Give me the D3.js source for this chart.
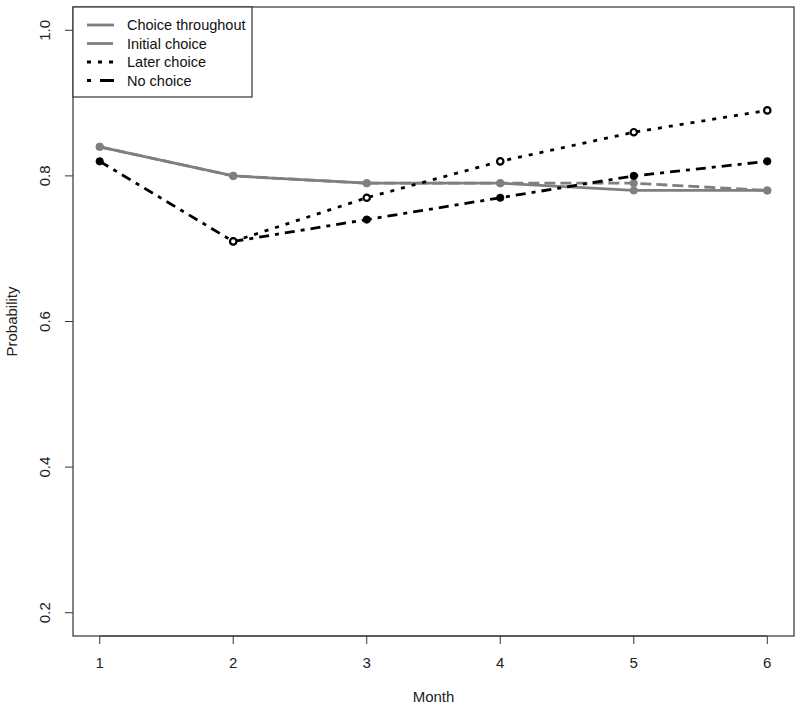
<!DOCTYPE html>
<html><head><meta charset="utf-8">
<script src="https://cdn.jsdelivr.net/npm/d3@7"></script>
<style>body{margin:0;background:#fff}svg{display:block}text{font-family:"Liberation Sans",Arial,sans-serif}</style>
</head><body>
<script>
const months = [1, 2, 3, 4, 5, 6];
const choiceThroughout = [0.84, 0.80, 0.79, 0.79, 0.78, 0.78];
const initialChoice   = [0.84, 0.80, 0.79, 0.79, 0.79, 0.78];
const laterChoice     = [null, 0.71, 0.77, 0.82, 0.86, 0.89];
const noChoice        = [0.82, 0.71, 0.74, 0.77, 0.80, 0.82];
const yTicks = [0.2, 0.4, 0.6, 0.8, 1.0];
const seriesNames = ["Choice throughout", "Initial choice", "Later choice", "No choice"];

const W = 800, H = 711;
const m = {left: 73, right: 6, top: 7, bottom: 75};
const svg = d3.select("body").append("svg").attr("width", W).attr("height", H);

const x = d3.scaleLinear().domain([0.8, 6.2]).range([m.left, W - m.right]);
const y = d3.scaleLinear().domain([0.168, 1.032]).range([H - m.bottom, m.top]);

const series = [
  {name: seriesNames[0], values: choiceThroughout, color: "#7f7f7f", dash: null, legendDash: null, marker: "filled", z: 0},
  {name: seriesNames[1], values: initialChoice, color: "#7f7f7f", dash: "11,5", legendDash: "26,4", marker: "filled", z: 1},
  {name: seriesNames[2], values: laterChoice, color: "#000", dash: "4,7", legendDash: "4,7", marker: "open", z: 3},
  {name: seriesNames[3], values: noChoice, color: "#000", dash: "10,6,4,6", legendDash: "4,9,14,6", marker: "filled", z: 2}
];
const axisColor = "#333";

// box
svg.append("rect").attr("x", m.left).attr("y", m.top)
  .attr("width", W - m.right - m.left).attr("height", H - m.bottom - m.top)
  .attr("fill", "none").attr("stroke", axisColor).attr("stroke-width", 1.2);

// x axis
const xb = H - m.bottom;
const gx = svg.append("g").attr("transform", `translate(0,${xb})`);
gx.append("line").attr("x1", x(1)).attr("x2", x(6)).attr("stroke", axisColor).attr("stroke-width", 1);
months.forEach(v => {
  gx.append("line").attr("x1", x(v)).attr("x2", x(v)).attr("y1", 0).attr("y2", 8).attr("stroke", axisColor);
  gx.append("text").attr("x", x(v)).attr("y", 32).attr("text-anchor", "middle")
    .attr("font-size", 15).attr("fill", "#222").text(v);
});
svg.append("text").attr("x", (m.left + W - m.right) / 2).attr("y", 702).attr("text-anchor", "middle")
  .attr("font-size", 15).attr("fill", "#222").text("Month");

// y axis
const gy = svg.append("g").attr("transform", `translate(${m.left},0)`);
yTicks.forEach(v => {
  gy.append("line").attr("x1", 0).attr("x2", -8).attr("y1", y(v)).attr("y2", y(v)).attr("stroke", axisColor);
  gy.append("text").attr("transform", `translate(-23,${y(v)}) rotate(-90)`).attr("text-anchor", "middle")
    .attr("font-size", 15).attr("fill", "#222").text(v.toFixed(1));
});
svg.append("text").attr("transform", `translate(17,${y(0.6)}) rotate(-90)`).attr("text-anchor", "middle")
  .attr("font-size", 15).attr("fill", "#222").text("Probability");

// lines
const line = d3.line().defined(d => d != null).x((d, i) => x(months[i])).y(d => y(d));
series.forEach(s => {
  svg.append("path").datum(s.values).attr("d", line).attr("fill", "none")
    .attr("stroke", s.color).attr("stroke-width", 2.8)
    .attr("stroke-dasharray", s.dash).attr("stroke-linecap", "butt");
});
// markers (later choice on top)
series.slice().sort((a, b) => a.z - b.z).forEach(s => {
  const pts = s.values.map((v, i) => ({m: months[i], v})).filter(d => d.v != null);
  svg.append("g").selectAll("circle").data(pts).join("circle")
    .attr("cx", d => x(d.m)).attr("cy", d => y(d.v))
    .attr("r", s.marker === "open" ? 3.2 : 3.8)
    .attr("fill", s.marker === "open" ? "#fff" : s.color)
    .attr("stroke", s.color).attr("stroke-width", s.marker === "open" ? 2.2 : 0.5);
});

// legend
const lg = svg.append("g");
lg.append("rect").attr("x", m.left).attr("y", m.top).attr("width", 179).attr("height", 90)
  .attr("fill", "#fff").attr("stroke", axisColor).attr("stroke-width", 1.2);
series.forEach((s, i) => {
  const yy = 25 + i * 18.5;
  lg.append("line").attr("x1", 87).attr("x2", 114).attr("y1", yy).attr("y2", yy)
    .attr("stroke", s.color).attr("stroke-width", 2.8).attr("stroke-dasharray", s.legendDash);
  lg.append("text").attr("x", 127).attr("y", yy + 5).attr("font-size", 14.5).attr("fill", "#111").text(s.name);
});
</script>
</body></html>
